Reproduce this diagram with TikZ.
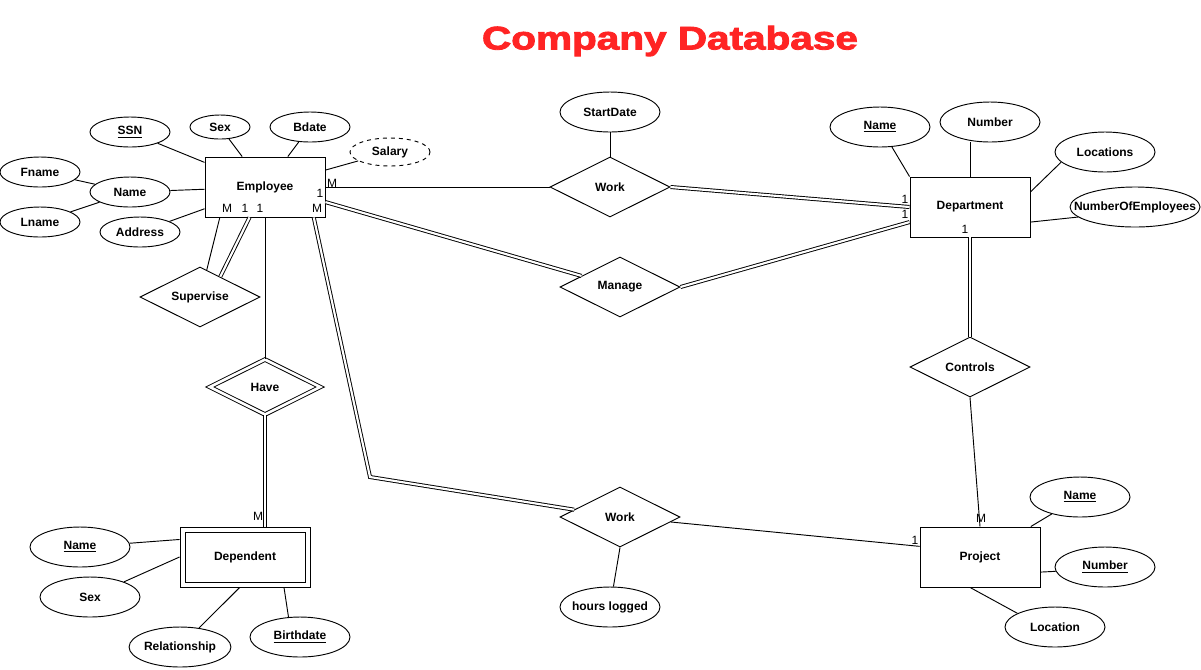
\documentclass[tikz,border=0pt]{standalone}
\usepackage{graphicx}
\usepackage{fontspec}
\setmainfont{Liberation Sans}
\newfontfamily\titlefont{Liberation Sans Bold}[FakeBold=2.5]
\usetikzlibrary{shapes.geometric}
\definecolor{titlered}{RGB}{255,36,36}

\begin{document}
\begin{tikzpicture}[x=0.75pt,y=-0.75pt,line width=0.7pt,
  font=\bfseries\fontsize{9}{10}\selectfont,
  entity/.style={draw, rectangle, minimum width=90pt, minimum height=45pt, inner sep=0pt},
  weak/.style={entity, minimum width=97.5pt},
  weakin/.style={draw, rectangle, minimum width=90pt, minimum height=37.5pt, inner sep=0pt},
  relship/.style={draw, diamond, aspect=2, minimum width=90pt, minimum height=45pt, inner sep=0pt},
  idrel/.style={relship, double, double distance=2pt, minimum width=83pt, minimum height=41.5pt},
  attrib/.style={draw, ellipse, minimum width=75pt, minimum height=30pt, inner sep=0pt},
  smallattr/.style={attrib, minimum width=60pt, minimum height=22.5pt},
  dbl/.style={double, double distance=1.6pt},
  cardlbl/.style={font=\mdseries\fontsize{9}{10}\selectfont, inner sep=0pt}]
\useasboundingbox (0,0) rectangle (1201,669);

\node[font=\titlefont\fontsize{24.5}{28}\selectfont, text=titlered] (title) at (670,41) {\scalebox{1.24}[1]{Company Database}};

% entities
\node[entity] (emp) at (265,187) {Employee};
\node[entity] (dept) at (970,207) {Department};
\node[entity] (proj) at (980,557) {Project};
\node[weak] (dep) at (245,557) {};
\node[weakin] (depin) at (245,557) {Dependent};

% relationships
\node[relship] (sup) at (200,297) {Supervise};
\node[idrel] (have) at (265,387) {Have};
\node[relship] (work) at (610,187) {Work};
\node[relship] (manage) at (620,287) {Manage};
\node[relship] (ctrl) at (970,367) {Controls};
\node[relship] (wk2) at (620,517) {Work};

% employee attributes
\node[smallattr] (ssn) at (130,132) {\underline{SSN}};
\node[smallattr, minimum width=45pt, minimum height=18pt] (esex) at (220,127) {Sex};
\node[smallattr] (bdate) at (310,127) {Bdate};
\node[smallattr, dashed, minimum height=21pt] (salary) at (390,152) {Salary};
\node[smallattr] (ename) at (130,192) {Name};
\node[smallattr] (fname) at (40,172) {Fname};
\node[smallattr] (lname) at (40,222) {Lname};
\node[smallattr] (addr) at (140,232) {Address};

% department attributes
\node[attrib] (dkey) at (880,127) {\underline{Name}};
\node[attrib] (dnum) at (990,122) {Number};
\node[attrib] (dloc) at (1105,152) {Locations};
\node[attrib, minimum width=97.5pt] (dnoe) at (1135,207) {\makebox[60pt]{NumberOfEmployees}};

% project attributes
\node[attrib] (pkey) at (1080,497) {\underline{Name}};
\node[attrib] (pnum) at (1105,567) {\underline{Number}};
\node[attrib] (ploc) at (1055,627) {Location};

% dependent attributes
\node[attrib] (dpkey) at (80,547) {\underline{Name}};
\node[attrib] (dpsex) at (90,597) {Sex};
\node[attrib] (dprel) at (180,647) {Relationship};
\node[attrib] (dpbirth) at (300,637) {\underline{Birthdate}};

% relationship attributes
\node[attrib] (sdate) at (610,112) {StartDate};
\node[attrib] (hrs) at (610,607) {\makebox[50pt]{hours logged}};

% cardinalities
\node[cardlbl] (c1) at (332,183) {M};
\node[cardlbl] (c2) at (320,193) {1};
\node[cardlbl] (c3) at (227,208) {M};
\node[cardlbl] (c4) at (245,208) {1};
\node[cardlbl] (c5) at (260,208) {1};
\node[cardlbl] (c6) at (317,208) {M};
\node[cardlbl] (c7) at (905,199) {1};
\node[cardlbl] (c8) at (905,214) {1};
\node[cardlbl] (c9) at (965,229) {1};
\node[cardlbl] (c10) at (258,516) {M};
\node[cardlbl] (c11) at (981,518) {M};
\node[cardlbl] (c12) at (915,540) {1};

\coordinate (bend) at (370,477);

\path[draw] (ssn) -- (emp);
\path[draw] (esex) -- (emp);
\path[draw] (bdate) -- (emp);
\path[draw] (salary) -- (emp);
\path[draw] (ename) -- (emp);
\path[draw] (fname) -- (ename);
\path[draw] (lname) -- (ename);
\path[draw] (addr) -- (emp);

\path[draw] (emp.214) -- (sup);
\path[draw,dbl] (emp.243) -- (sup.45);
\path[draw] (emp.south) -- (have.north);
\path[draw,dbl] (have.south) -- (have.south |- dep.north);

\path[draw] (emp.east) -- (work.west);
\path[draw] (sdate) -- (work);
\path[draw,dbl] (work.east) -- (dept.west);
\path[draw,dbl] (emp.346) -- (manage);
\path[draw,dbl] (manage.east) -- (dept.194);
\path[draw,dbl] (dept.south) -- (ctrl.north);
\path[draw] (ctrl.south) -- (proj.north);
\path[draw,dbl] (emp.328) -- (bend) -- (wk2);
\path[draw] (wk2) -- (proj.170);
\path[draw] (wk2.south) -- (hrs);

\path[draw] (dkey) -- (dept.north west);
\path[draw] (dnum.south -| dept.north) -- (dept.north);
\path[draw] (dloc.193) -- (dept.14);
\path[draw] (dnoe.190) -- (dept.346);

\path[draw] (pkey) -- (proj);
\path[draw] (pnum.185) -- (proj.346);
\path[draw] (ploc.160) -- (proj.252);

\path[draw] (dpkey) -- (dep.165);
\path[draw] (dpsex) -- (dep.180);
\path[draw] (dprel) -- (dep.260);
\path[draw] (dpbirth.120) -- (dep.322);
\end{tikzpicture}
\end{document}
